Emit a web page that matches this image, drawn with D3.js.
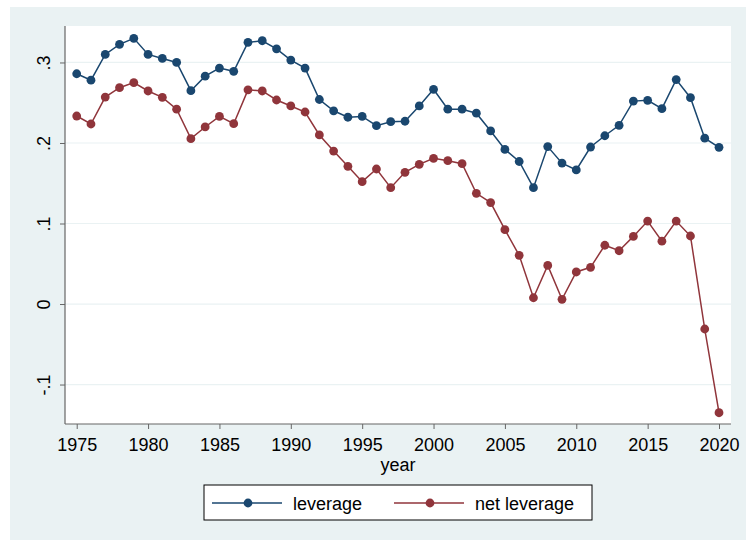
<!DOCTYPE html>
<html>
<head>
<script src="https://d3js.org/d3.v7.min.js"></script>
<style>
  body { margin: 0; background: #fff; }
  text { font-family: Helvetica, "Liberation Sans", Arial, sans-serif; fill: #000; }
</style>
</head>
<body>
<svg width="746" height="540"></svg>
<script>
const years = d3.range(1975, 2021);
const leverage = [
  0.286, 0.278, 0.310, 0.3225, 0.330, 0.310, 0.305, 0.300, 0.265, 0.283,
  0.293, 0.289, 0.325, 0.327, 0.317, 0.303, 0.293, 0.254, 0.240, 0.232,
  0.233, 0.2215, 0.2265, 0.227, 0.246, 0.2667, 0.242, 0.242, 0.237, 0.215,
  0.192, 0.177, 0.1445, 0.1955, 0.175, 0.1665, 0.195, 0.209, 0.222, 0.252,
  0.253, 0.2426, 0.2787, 0.2563, 0.206, 0.1946
];
const netLeverage = [
  0.2335, 0.2236, 0.257, 0.2687, 0.275, 0.2646, 0.2567, 0.242, 0.2054, 0.2199,
  0.233, 0.224, 0.266, 0.2646, 0.2534, 0.246, 0.2385, 0.210, 0.190, 0.171,
  0.152, 0.1677, 0.1445, 0.1636, 0.1735, 0.181, 0.178, 0.1743, 0.1375, 0.126,
  0.0923, 0.0605, 0.0078, 0.048, 0.0058, 0.0398, 0.0456, 0.073, 0.0662, 0.084,
  0.103, 0.078, 0.103, 0.0845, -0.031, -0.135
];
const xTicks = [1975, 1980, 1985, 1990, 1995, 2000, 2005, 2010, 2015, 2020];
const yTicks = [-0.1, 0, 0.1, 0.2, 0.3];
const yLabels = ["-.1", "0", ".1", ".2", ".3"];

const series = [
  { name: "leverage", values: leverage, color: "#1a476f" },
  { name: "net leverage", values: netLeverage, color: "#90353b" }
];

const svg = d3.select("svg");
const bg = "#eaf2f3";

// outer graph region
svg.append("rect").attr("x", 10).attr("y", 7).attr("width", 736).attr("height", 533).attr("fill", bg);

const plot = { left: 65, right: 731, top: 26, bottom: 424 };
svg.append("rect")
  .attr("x", plot.left).attr("y", plot.top)
  .attr("width", plot.right - plot.left).attr("height", plot.bottom - plot.top)
  .attr("fill", "#fff");

const x = d3.scaleLinear().domain([1974.18, 2020.84]).range([plot.left, plot.right]);
const y = d3.scaleLinear().domain([-0.149, 0.3453]).range([plot.bottom, plot.top]);

// gridlines
svg.append("g").selectAll("line").data(yTicks).join("line")
  .attr("x1", plot.left).attr("x2", plot.right)
  .attr("y1", d => y(d)).attr("y2", d => y(d))
  .attr("stroke", bg).attr("stroke-width", 1.2);

// y axis
const yAxis = svg.append("g").attr("transform", `translate(${plot.left},0)`)
  .call(d3.axisLeft(y).tickValues(yTicks).tickSize(5).tickFormat((d, i) => yLabels[i]));
yAxis.select(".domain").attr("stroke", "#666").attr("stroke-width", 1.2)
  .attr("d", `M0,${plot.top}V${plot.bottom}`);
yAxis.selectAll(".tick line").attr("stroke", "#666");
yAxis.selectAll(".tick text")
  .attr("font-size", 18).attr("fill", "#000")
  .attr("text-anchor", "middle")
  .attr("x", null).attr("dy", null)
  .attr("transform", "translate(-15,0) rotate(-90)");

// x axis
const xAxis = svg.append("g").attr("transform", `translate(0,${plot.bottom})`)
  .call(d3.axisBottom(x).tickValues(xTicks).tickSize(5).tickFormat(d3.format("d")));
xAxis.select(".domain").attr("stroke", "#666").attr("stroke-width", 1.2)
  .attr("d", `M${plot.left},0H${plot.right}`);
xAxis.selectAll(".tick line").attr("stroke", "#666");
xAxis.selectAll(".tick text").attr("font-size", 18).attr("fill", "#000")
  .attr("y", 26.5).attr("dy", null);

svg.append("text").attr("x", (plot.left + plot.right) / 2).attr("y", 471)
  .attr("text-anchor", "middle").attr("font-size", 18).text("year");

// lines and markers
const line = d3.line().x((d, i) => x(years[i])).y(d => y(d));
series.forEach(s => {
  svg.append("path").datum(s.values)
    .attr("d", line).attr("fill", "none")
    .attr("stroke", s.color).attr("stroke-width", 1.5);
  svg.append("g").selectAll("circle").data(s.values).join("circle")
    .attr("cx", (d, i) => x(years[i])).attr("cy", d => y(d))
    .attr("r", 4.4).attr("fill", s.color);
});

// legend
const legend = svg.append("g");
legend.append("rect").attr("x", 204).attr("y", 485).attr("width", 388).attr("height", 35)
  .attr("fill", "#fff").attr("stroke", "#000").attr("stroke-width", 1);
const legendX = [212, 394];
series.forEach((s, i) => {
  const g = legend.append("g").attr("transform", `translate(${legendX[i]},503)`);
  g.append("line").attr("x1", 0).attr("x2", 70).attr("stroke", s.color).attr("stroke-width", 1.5);
  g.append("circle").attr("cx", 36).attr("r", 4.4).attr("fill", s.color);
  g.append("text").attr("x", 81).attr("y", 6.5).attr("font-size", 18).text(s.name);
});
</script>
</body>
</html>
